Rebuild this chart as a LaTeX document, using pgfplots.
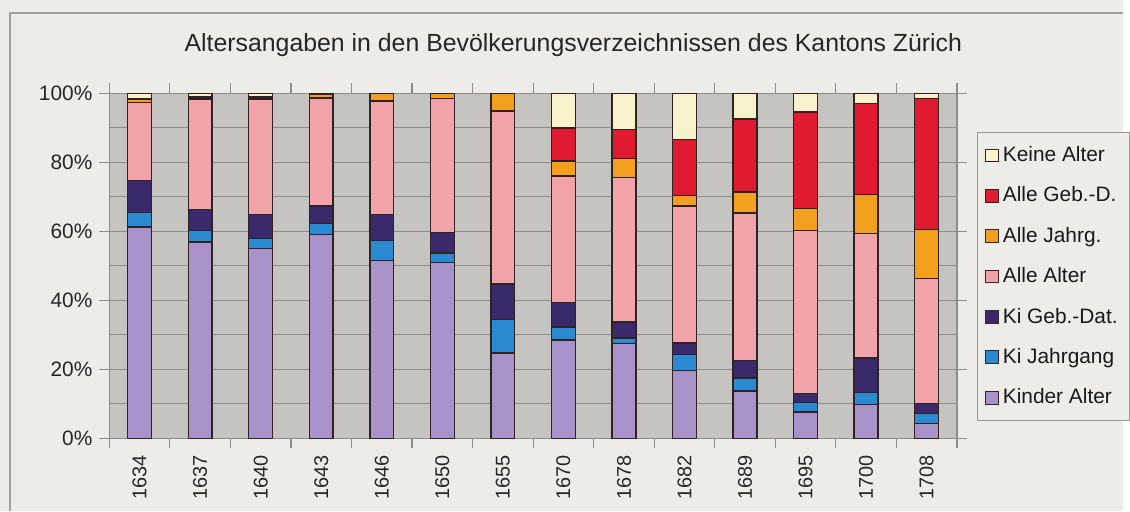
\documentclass[border=0pt]{standalone}
\usepackage{pgfplots}
\pgfplotsset{compat=1.18}
\usepackage{pgfplotstable}
\usepackage{fontspec}
\setmainfont{Liberation Sans}
\definecolor{paper}{HTML}{EDECE8}
\definecolor{plotbg}{HTML}{C5C4C1}
\definecolor{gridgray}{HTML}{8E8D8A}
\definecolor{cKA}{HTML}{A991C9}
\definecolor{cKJ}{HTML}{2A8AD2}
\definecolor{cKG}{HTML}{3B2A6B}
\definecolor{cAA}{HTML}{F2A3AA}
\definecolor{cAJ}{HTML}{F29F1F}
\definecolor{cAG}{HTML}{E01B2F}
\definecolor{cKe}{HTML}{F8F2CC}
\definecolor{edge}{HTML}{2E2222}
\pgfplotstableread{
idx year KA KJ KG AA AJ AG Ke
0 1634 61.2 4.3 9.2 22.6 1.0 0.3 1.4
1 1637 56.9 3.3 6.2 31.9 0.3 0.4 1.0
2 1640 55.0 2.9 6.9 33.5 0.3 0.4 1.0
3 1643 59.0 3.2 5.1 31.4 1.0 0.0 0.3
4 1646 51.6 5.8 7.4 33.0 2.2 0.0 0.0
5 1650 50.9 2.8 6.0 38.8 1.5 0.0 0.0
6 1655 24.7 9.8 10.2 50.2 5.1 0.0 0.0
7 1670 28.5 3.8 7.0 36.8 4.3 9.6 10.0
8 1678 27.4 1.7 4.6 41.9 5.5 8.5 10.4
9 1682 19.7 4.5 3.4 39.7 3.1 16.3 13.3
10 1689 13.7 3.8 5.1 42.7 6.1 21.2 7.4
11 1695 7.6 2.7 2.6 47.4 6.4 27.9 5.4
12 1700 9.8 3.4 10.1 36.1 11.3 26.3 3.0
13 1708 4.3 2.8 2.9 36.3 14.2 38.0 1.5
}\datatable
\begin{document}
\begin{tikzpicture}
\path[fill=paper] (0,0) rectangle (565pt,257pt);
\draw[gray!75, line width=0.6pt] (5pt,0) -- (5pt,250.5pt) -- (565pt,250.5pt);
\node[font=\fontsize{12.5}{14}\selectfont, text=black!85] at (288.5pt,234.5pt) {Altersangaben in den Bevölkerungsverzeichnissen des Kantons Zürich};
\begin{axis}[
  at={(55pt,36.5pt)}, anchor=south west,
  scale only axis, width=426.5pt, height=173.5pt,
  ybar stacked, bar width=12pt,
  xmin=-0.5, xmax=13.5, ymin=0, ymax=100,
  axis background/.style={fill=plotbg},
  axis line style={draw=gridgray, line width=0.7pt},
  xtick={-0.5,0.5,...,13.5},
  x tick label as interval,
  xticklabels={1634,1637,1640,1643,1646,1650,1655,1670,1678,1682,1689,1695,1700,1708},
  xticklabel style={rotate=90, anchor=east, font=\fontsize{10}{12}\selectfont, text=black!85},
  ytick={0,20,...,100},
  yticklabels={0\%,20\%,40\%,60\%,80\%,100\%},
  yticklabel style={font=\fontsize{10.5}{12}\selectfont, text=black!85},
  minor ytick={10,30,50,70,90},
  ymajorgrids, yminorgrids,
  major grid style={draw=gridgray, line width=0.6pt},
  minor grid style={draw=gridgray, line width=0.6pt},
  tick align=outside, major tick length=5pt, minor tick length=0pt,
  tick style={draw=gridgray, line width=0.6pt},
  every axis plot/.append style={draw=edge, line width=0.7pt},
  reverse legend,
  legend cell align=left,
  legend style={at={(1.0235,0.8876)}, anchor=north west, draw=gray!80, fill=paper,
    font=\fontsize{10.5}{12}\selectfont, row sep=7.2pt, inner xsep=4pt, inner ysep=5pt,
    text=black!90},
  legend image code/.code={\draw[#1, line width=0.5pt] (0pt,-3.2pt) rectangle (6.4pt,3.2pt);},
]
\addplot[fill=cKA] table[x=idx,y=KA]{\datatable};
\addplot[fill=cKJ] table[x=idx,y=KJ]{\datatable};
\addplot[fill=cKG] table[x=idx,y=KG]{\datatable};
\addplot[fill=cAA] table[x=idx,y=AA]{\datatable};
\addplot[fill=cAJ] table[x=idx,y=AJ]{\datatable};
\addplot[fill=cAG] table[x=idx,y=AG]{\datatable};
\addplot[fill=cKe] table[x=idx,y=Ke]{\datatable};
\legend{Kinder Alter,Ki Jahrgang,Ki Geb.-Dat.,Alle Alter,Alle Jahrg.,Alle Geb.-D.,Keine Alter}
\end{axis}
\end{tikzpicture}
\end{document}
